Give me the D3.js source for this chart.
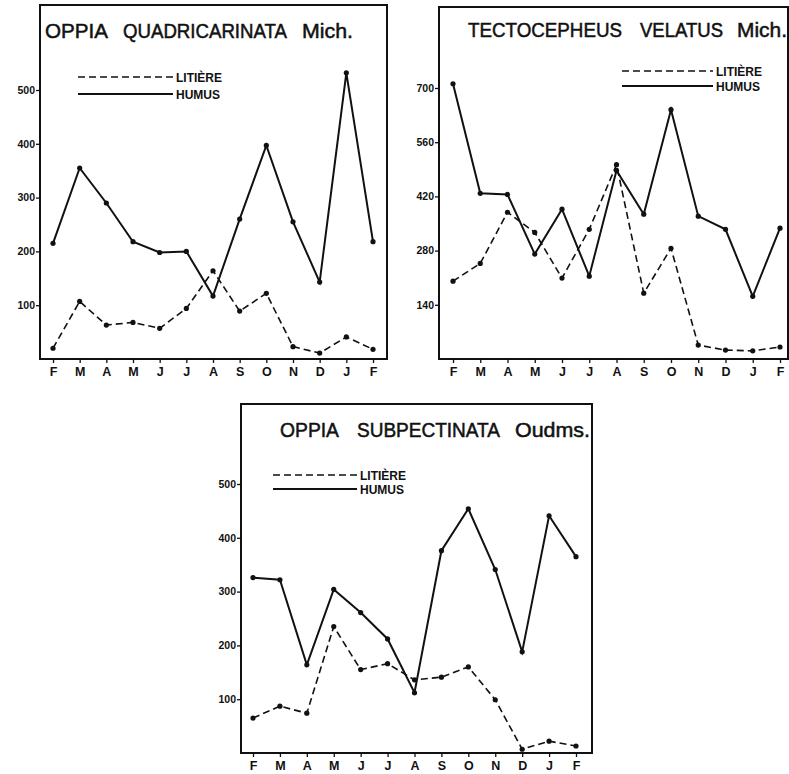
<!DOCTYPE html>
<html>
<head>
<meta charset="utf-8">
<script src="https://cdn.jsdelivr.net/npm/d3@7"></script>
<style>
  body { margin: 0; background: #fff; }
  svg text { fill: #111; }
</style>
</head>
<body>
<svg id="chart" width="789" height="774"></svg>
<script>
// mois (février à février)
const mois = ["F", "M", "A", "M", "J", "J", "A", "S", "O", "N", "D", "J", "F"];

// Oppia quadricarinata
const quadHumus = [215, 355, 290, 218, 198, 200, 117, 260, 397, 255, 143, 532, 218];
const quadLitiere = [20, 107, 63, 68, 57, 94, 164, 89, 122, 23, 11, 41, 18];
const quadTicks = [100, 200, 300, 400, 500];

// Tectocepheus velatus
const velHumus = [711, 428, 425, 271, 387, 214, 487, 374, 644, 369, 335, 162, 338];
const velLitiere = [201, 247, 379, 327, 209, 335, 502, 170, 286, 36, 23, 21, 31];
const velTicks = [140, 280, 420, 560, 700];

// Oppia subpectinata
const subHumus = [326, 322, 164, 304, 261, 212, 112, 376, 454, 341, 188, 441, 365];
const subLitiere = [65, 87, 74, 235, 155, 166, 136, 141, 160, 99, 7, 22, 13];
const subTicks = [100, 200, 300, 400, 500];

const svg = d3.select("#chart");
const police = "Liberation Sans, Arial, sans-serif";

function dessinerPanneau(p) {
    const g = svg.append("g");

    const x = d3.scaleLinear().domain([0, 12]).range([p.x0, p.x12]);
    const y = d3.scaleLinear().domain([0, p.vmax]).range([p.bas, p.ymax]);

    // cadre
    g.append("rect")
        .attr("x", p.gauche).attr("y", p.haut)
        .attr("width", p.droite - p.gauche).attr("height", p.bas - p.haut)
        .attr("fill", "none").attr("stroke", "#111").attr("stroke-width", 2);

    // axe des ordonnées
    const axeY = d3.axisLeft(y).tickValues(p.ticks).tickSize(4).tickPadding(1);
    g.append("g")
        .attr("transform", `translate(${p.gauche},0)`)
        .call(axeY)
        .call(a => a.select(".domain").remove())
        .call(a => a.selectAll("line").attr("stroke", "#111").attr("stroke-width", 1.3))
        .call(a => a.selectAll("text")
            .attr("font-family", police)
            .attr("font-size", 10.5).attr("font-weight", "bold").attr("fill", "#111"));

    // axe des abscisses
    const axeX = d3.axisBottom(x).tickValues(d3.range(13))
        .tickFormat(i => mois[i]).tickSize(4).tickPadding(4);
    g.append("g")
        .attr("transform", `translate(0,${p.bas})`)
        .call(axeX)
        .call(a => a.select(".domain").remove())
        .call(a => a.selectAll("line").attr("stroke", "#111").attr("stroke-width", 1.3))
        .call(a => a.selectAll("text")
            .attr("font-family", police)
            .attr("font-size", 12.5).attr("font-weight", "bold").attr("fill", "#111"));

    const ligne = d3.line().x((d, i) => x(i)).y(d => y(d));

    // litière (tirets)
    g.append("path").datum(p.litiere)
        .attr("d", ligne).attr("fill", "none")
        .attr("stroke", "#111").attr("stroke-width", 1.6)
        .attr("stroke-dasharray", "7,4");
    // humus (trait plein)
    g.append("path").datum(p.humus)
        .attr("d", ligne).attr("fill", "none")
        .attr("stroke", "#111").attr("stroke-width", 2);

    [p.litiere, p.humus].forEach(serie => {
        g.selectAll(null).data(serie).enter().append("circle")
            .attr("cx", (d, i) => x(i)).attr("cy", d => y(d))
            .attr("r", 2.6).attr("fill", "#111");
    });

    // titre : un mot à la fois, larges espaces entre les mots
    p.titre.forEach(m => {
        g.append("text")
            .attr("x", m[1]).attr("y", p.titreY)
            .attr("font-family", police)
            .attr("font-size", 20)
            .attr("stroke", "#111").attr("stroke-width", 0.5)
            .attr("textLength", m[2] - m[1]).attr("lengthAdjust", "spacingAndGlyphs")
            .text(m[0]);
    });

    // légende
    const leg = [
        { nom: "LITIÈRE", dash: "7,4", y: p.legY, w: 1.6 },
        { nom: "HUMUS", dash: null, y: p.legY + p.legDy, w: 2 }
    ];
    leg.forEach(l => {
        g.append("line")
            .attr("x1", p.legX1).attr("x2", p.legX2)
            .attr("y1", l.y).attr("y2", l.y)
            .attr("stroke", "#111").attr("stroke-width", l.w)
            .attr("stroke-dasharray", l.dash);
        g.append("text")
            .attr("x", p.legX2 + 3).attr("y", l.y + 4.5)
            .attr("font-family", police)
            .attr("font-size", 12).attr("font-weight", "bold")
            .text(l.nom);
    });
}

dessinerPanneau({
    gauche: 40, droite: 387, haut: 5, bas: 359,
    x0: 53, x12: 373, vmax: 500, ymax: 90,
    ticks: quadTicks, humus: quadHumus, litiere: quadLitiere,
    titre: [["OPPIA", 45, 108], ["QUADRICARINATA", 123, 287], ["Mich.", 302, 353]],
    titreY: 38,
    legX1: 78, legX2: 173, legY: 77, legDy: 17
});

dessinerPanneau({
    gauche: 439, droite: 788, haut: 7, bas: 359,
    x0: 453, x12: 780, vmax: 700, ymax: 88,
    ticks: velTicks, humus: velHumus, litiere: velLitiere,
    titre: [["TECTOCEPHEUS", 468, 622], ["VELATUS", 640, 723], ["Mich.", 737, 787]],
    titreY: 37,
    legX1: 622, legX2: 713, legY: 71, legDy: 15
});

dessinerPanneau({
    gauche: 241, droite: 592, haut: 404, bas: 753,
    x0: 253, x12: 576, vmax: 500, ymax: 484,
    ticks: subTicks, humus: subHumus, litiere: subLitiere,
    titre: [["OPPIA", 280, 339], ["SUBPECTINATA", 357, 500], ["Oudms.", 515, 590]],
    titreY: 437,
    legX1: 273, legX2: 357, legY: 475, legDy: 14
});
</script>
</body>
</html>
